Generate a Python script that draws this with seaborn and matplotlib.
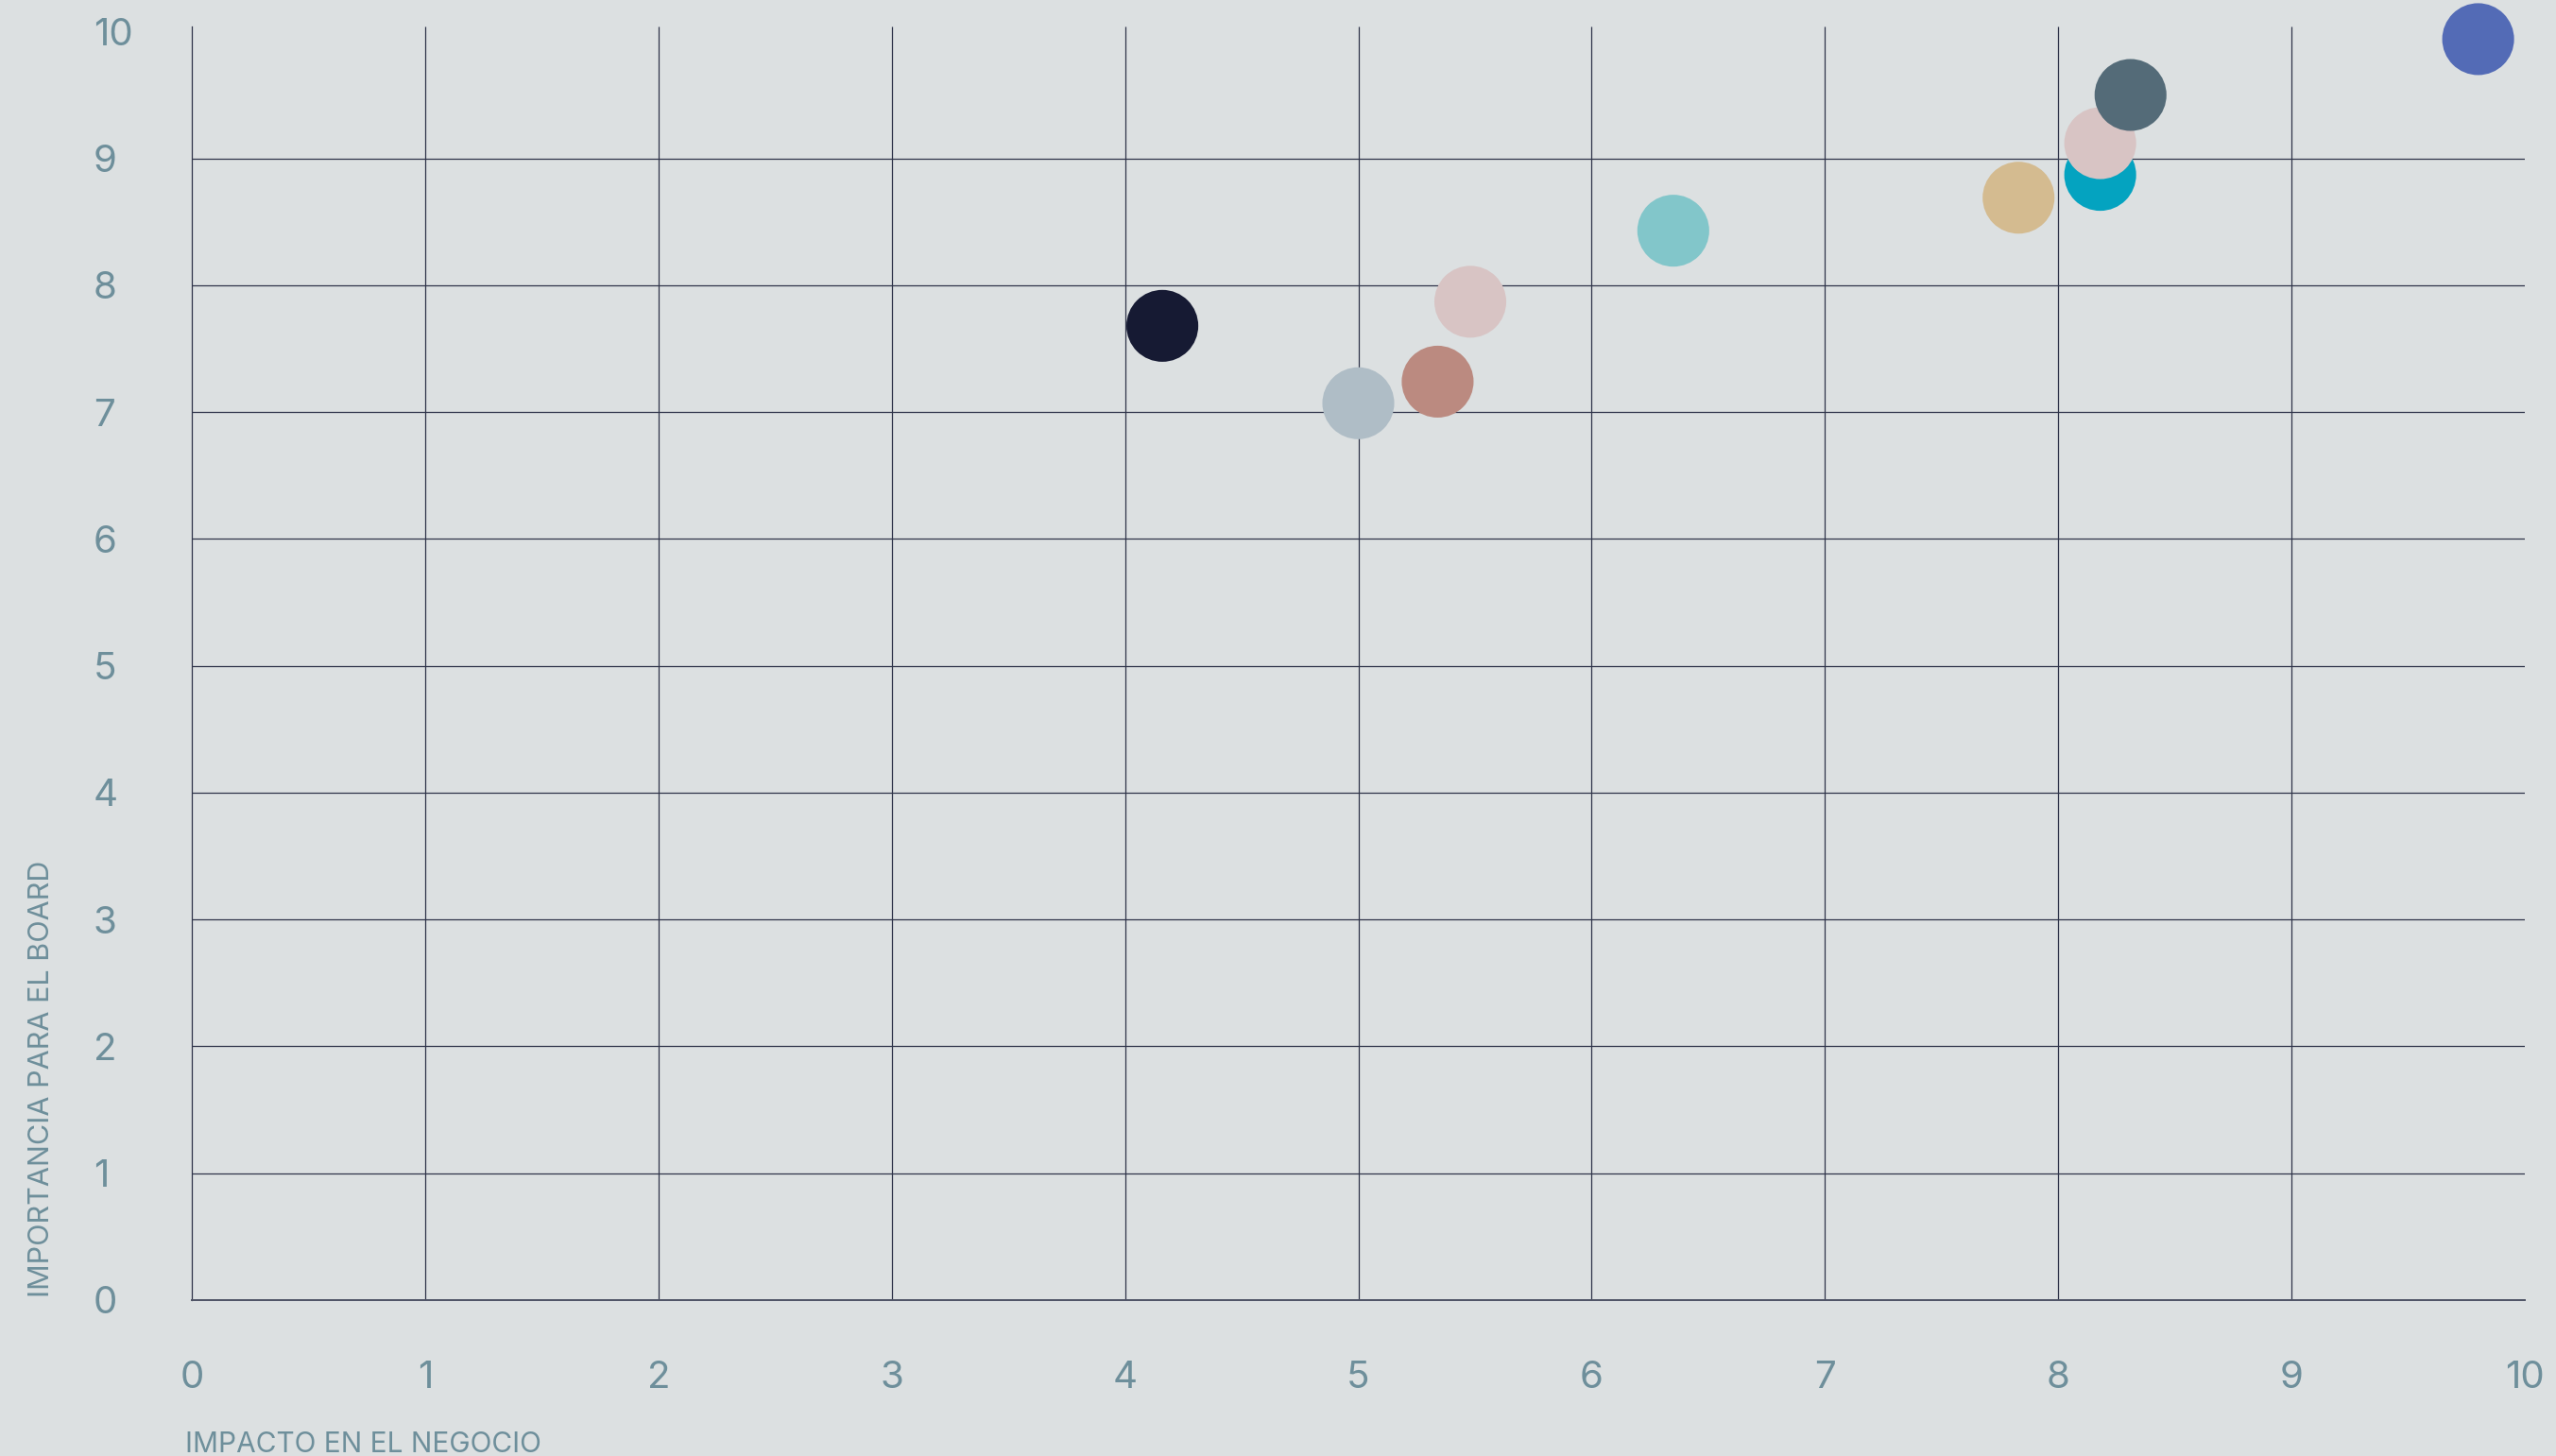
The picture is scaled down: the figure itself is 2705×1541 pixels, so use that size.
import matplotlib
matplotlib.use("Agg")
import matplotlib.pyplot as plt
import seaborn as sns
import pandas as pd

# ---- data ----
categories = ["P1", "P2", "P3", "P4", "P5", "P6", "P7", "P8", "P9", "P10"]
impacto = [4.16, 5.00, 5.34, 5.48, 6.35, 7.83, 8.18, 8.18, 8.31, 9.80]
importancia = [7.68, 7.07, 7.24, 7.87, 8.43, 8.69, 8.87, 9.12, 9.50, 9.94]
colores = ["#161A33", "#AFBDC6", "#BB8A80", "#D8C4C4", "#82C6CA",
           "#D4BB90", "#04A3C0", "#D8C4C4", "#546B78", "#536BB6"]
ticks = [0, 1, 2, 3, 4, 5, 6, 7, 8, 9, 10]
grid_vals = [1, 2, 3, 4, 5, 6, 7, 8, 9]
x_label = "IMPACTO EN EL NEGOCIO"
y_label = "IMPORTANCIA PARA EL BOARD"

BG = "#DCE0E1"
TXT = "#6E8F9B"
LINE = "#2E3349"

sns.set_theme(style="white")
plt.rcParams["font.family"] = ["Inter", "DejaVu Sans"]

df = pd.DataFrame({"cat": categories, "x": impacto, "y": importancia})

fig = plt.figure(figsize=(27.05, 15.41), dpi=100, facecolor=BG)
ax = fig.add_axes([203 / 2705, 1 - 1376 / 1541, (2672 - 203) / 2705, (1376 - 28) / 1541])
ax.set_facecolor(BG)

ax.vlines(grid_vals, 0, 10.04, colors=LINE, linewidth=0.9, zorder=1)
ax.hlines(grid_vals, 0, 10, colors=LINE, linewidth=0.9, zorder=1)

sns.scatterplot(data=df, x="x", y="y", hue="cat",
                palette=dict(zip(categories, colores)),
                s=3000, linewidth=0, alpha=1, legend=False, ax=ax, zorder=3,
                clip_on=False)

ax.set_xlim(0, 10)
ax.set_ylim(0, 10.04)
ax.set_xticks(ticks)
ax.set_yticks(ticks)
ax.set_xticklabels([str(t) for t in ticks])
ax.set_yticklabels([str(t) for t in ticks])
ax.set_xlabel("")
ax.set_ylabel("")

for s in ["top", "right"]:
    ax.spines[s].set_visible(False)
ax.spines["left"].set_color(LINE)
ax.spines["left"].set_linewidth(0.9)
ax.spines["bottom"].set_color("#4E5365")
ax.spines["bottom"].set_linewidth(1.4)
ax.spines["left"].set_zorder(2)
ax.spines["bottom"].set_zorder(2)

ax.tick_params(axis="both", length=0, labelsize=29, labelcolor=TXT)
ax.tick_params(axis="y", pad=75)
ax.tick_params(axis="x", pad=46)
for lab in ax.get_yticklabels():
    lab.set_ha("left")
    lab.set_fontweight("normal")
for lab in ax.get_xticklabels():
    lab.set_fontweight("normal")

fig.text(196 / 2705, 4 / 1541, x_label, ha="left", va="baseline",
         fontsize=21.5, color=TXT, fontweight="normal")
fig.text(44 / 2705, 1 - 1373 / 1541, y_label, ha="center", va="bottom",
         rotation=90, fontsize=22, color=TXT, fontweight="normal")

fig.savefig("out.png", dpi=100, facecolor=BG)
